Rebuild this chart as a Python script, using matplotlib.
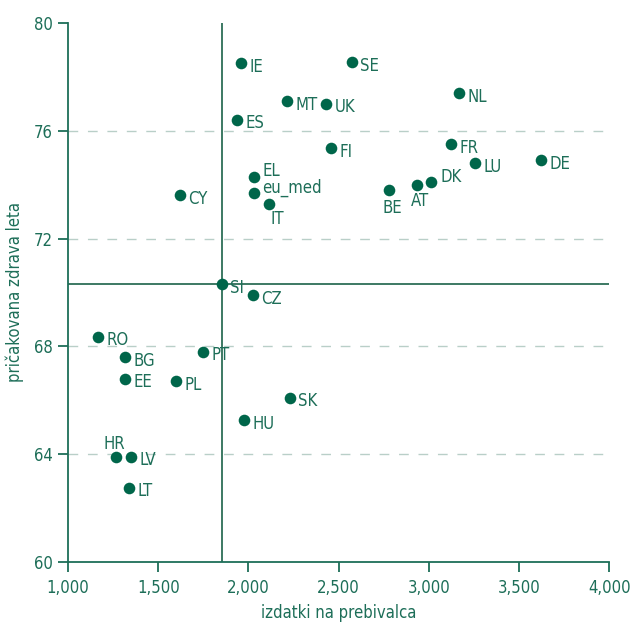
import matplotlib.pyplot as plt
from matplotlib import font_manager
from matplotlib.ticker import FuncFormatter

# condensed face to get close to the narrow font of the original
names = {f.name for f in font_manager.fontManager.ttflist}
fam = 'Liberation Sans Narrow' if 'Liberation Sans Narrow' in names else 'DejaVu Sans'
plt.rcParams['font.family'] = [fam, 'DejaVu Sans']
plt.rcParams['font.stretch'] = 'condensed'

countries = ['IE', 'SE', 'NL', 'MT', 'UK', 'ES', 'FR', 'FI', 'LU', 'DE', 'EL', 'DK', 'AT', 'BE',
             'eu_med', 'CY', 'IT', 'SI', 'CZ', 'RO', 'BG', 'PT', 'EE', 'PL', 'SK', 'HU', 'HR', 'LV', 'LT']
spending = [1959, 2575, 3168, 2215, 2431, 1937, 3124, 2459, 3257, 3623, 2032, 3013, 2936, 2780,
            2032, 1621, 2115, 1854, 2026, 1166, 1316, 1749, 1316, 1599, 2231, 1976, 1266, 1349, 1338]
healthy_years = [78.5, 78.55, 77.4, 77.1, 77.0, 76.4, 75.5, 75.35, 74.8, 74.9, 74.3, 74.1, 74.0, 73.8,
                 73.7, 73.6, 73.3, 70.3, 69.9, 68.35, 67.6, 67.8, 66.8, 66.7, 66.1, 65.25, 63.9, 63.9, 62.75]
median_x = 1854
median_y = 70.3

# label offsets (points) for the ones not placed to the right
offsets = {'EL': (6, 4, 'left'), 'eu_med': (6, 3.5, 'left'), 'IT': (6, -11, 'center'),
           'BE': (2, -13, 'center'), 'AT': (2, -12, 'center'), 'DK': (7, 3.5, 'left'),
           'HR': (-1, 9, 'center')}

green = '#00664a'
txt = '#1d6e58'

fig = plt.figure(figsize=(6.3, 6.22), dpi=100)
ax = fig.add_axes([0.108, 0.0965, 0.859, 0.8665])

ax.scatter(spending, healthy_years, s=70, color=green, zorder=3, linewidths=0)
for c, x, y in zip(countries, spending, healthy_years):
    dx, dy, ha = offsets.get(c, (6, -2.5, 'left'))
    ax.annotate(c, (x, y), xytext=(dx, dy), textcoords='offset points', ha=ha, va='center',
                fontsize=12, color=txt)

ax.axvline(median_x, color='#2d6e57', lw=1.3, zorder=2)
ax.axhline(median_y, color='#2d6e57', lw=1.3, zorder=2)

ax.set_xlim(1000, 4000)
ax.set_ylim(60, 80)
ax.set_xticks([1000, 1500, 2000, 2500, 3000, 3500, 4000])
ax.set_yticks([60, 64, 68, 72, 76, 80])
ax.xaxis.set_major_formatter(FuncFormatter(lambda v, p: f'{int(v):,}'))
for y in [64, 68, 72, 76]:
    ax.axhline(y, color='#b9cfc8', lw=1, ls=(0, (7, 7)), zorder=1)

for s in ['top', 'right']:
    ax.spines[s].set_visible(False)
for s in ['left', 'bottom']:
    ax.spines[s].set_color('#1d6e58')
    ax.spines[s].set_linewidth(1.3)
ax.tick_params(colors='#1d6e58', labelcolor=txt, labelsize=12, length=7, width=1.3)
ax.tick_params(axis='y', pad=4)
ax.tick_params(axis='x', pad=5)

ax.set_xlabel('izdatki na prebivalca', color=txt, fontsize=12, labelpad=5)
ax.set_ylabel('pričakovana zdrava leta', color=txt, fontsize=12, labelpad=7)

fig.savefig('out.png', dpi=100)
